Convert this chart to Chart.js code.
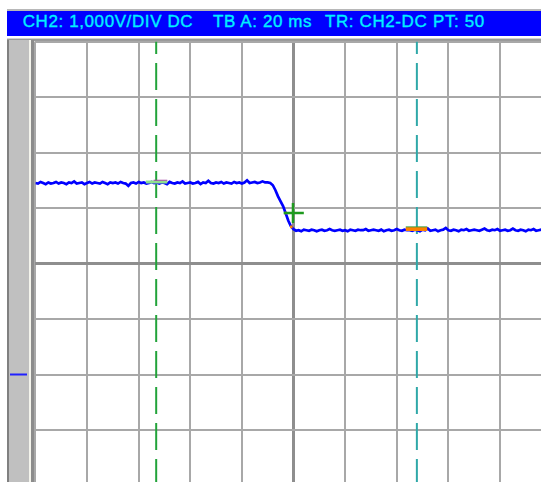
<!DOCTYPE html>
<html>
<head>
<meta charset="utf-8">
<script src="https://cdn.jsdelivr.net/npm/chart.js@4"></script>
<style>
  html, body { margin:0; padding:0; }
  body { width:541px; height:482px; overflow:hidden; position:relative; background:#ffffff; font-family:"Liberation Sans", Arial, sans-serif; }
  .abs { position:absolute; }
  .ttl { position:absolute; top:12.6px; font-size:17px; line-height:1; color:#00F0FF; letter-spacing:0.6px; white-space:pre; -webkit-text-stroke:0.35px #00F0FF; }
  canvas { position:absolute; left:0; top:0; z-index:1; }
</style>
</head>
<body>
<div class="abs" style="left:7px;top:9px;width:534px;height:2px;background:#B8B8B8"></div>
<div class="abs" style="left:7px;top:11px;width:534px;height:25px;background:#0000FF"></div>
<span class="ttl" style="left:22.7px">CH2: 1,000V/DIV DC</span>
<span class="ttl" style="left:213px">TB A: 20 ms</span>
<span class="ttl" style="left:325px">TR: CH2-DC</span>
<span class="ttl" style="left:433px">PT: 50</span>
<div class="abs" style="left:7px;top:38px;width:534px;height:1px;background:#D4D4D4"></div>
<div class="abs" style="left:7px;top:39px;width:534px;height:2px;background:#9A9A9A"></div>
<div class="abs" style="left:7px;top:40px;width:2px;height:442px;background:#808080"></div>
<div class="abs" style="left:9px;top:40px;width:20px;height:442px;background:#C0C0C0"></div>
<div class="abs" style="left:29px;top:40px;width:2px;height:442px;background:#F4F4EC"></div>
<div class="abs" style="left:31px;top:40px;width:3px;height:442px;background:#8C8C8C"></div>
<canvas id="c" width="570" height="500"></canvas>
<script>
// Time axis in ms (20 ms/div, trigger at centre), voltage in divisions (1 V/div)
const traceTimeMs = [
  -100,-99,-98,-97,-96,-95,-94,-93,-92,-91,
  -90,-89,-88,-87,-86,-85,-84,-83,-82,-81,
  -80,-79,-78,-77,-76,-75,-74,-73,-72,-71,
  -70,-69,-68,-67,-66,-65,-64,-63,-62,-61,
  -60,-59,-58,-57,-56,-55,-54,-53,-52,-51,
  -50,-49,-48,-47,-46,-45,-44,-43,-42,-41,
  -40,-39,-38,-37,-36,-35,-34,-33,-32,-31,
  -30,-29,-28,-27,-26,-25,-24,-23,-22,-21,
  -20,-19,-18,-17,-16,-15,-14,-13,-12,-11,
  -10,-9,-8,-7,-6,-5,-4,-3,-2,-1,
  0,1,2,3,4,5,6,7,8,9,
  10,11,12,13,14,15,16,17,18,19,
  20,21,22,23,24,25,26,27,28,29,
  30,31,32,33,34,35,36,37,38,39,
  40,41,42,43,44,45,46,47,48,49,
  50,51,52,53,54,55,56,57,58,59,
  60,61,62,63,64,65,66,67,68,69,
  70,71,72,73,74,75,76,77,78,79,
  80,81,82,83,84,85,86,87,88,89,
  90,91,92,93,94,95,96
];
const traceDiv = [
  1.45,1.44,1.47,1.45,1.43,1.46,1.44,1.45,1.47,1.44,
  1.46,1.45,1.43,1.46,1.45,1.48,1.44,1.45,1.46,1.43,
  1.45,1.47,1.44,1.46,1.45,1.44,1.47,1.45,1.43,1.46,
  1.45,1.46,1.44,1.47,1.45,1.44,1.40,1.45,1.46,1.44,
  1.47,1.45,1.46,1.44,1.45,1.47,1.45,1.46,1.44,1.46,
  1.45,1.43,1.47,1.45,1.44,1.46,1.45,1.48,1.44,1.45,
  1.46,1.44,1.45,1.47,1.43,1.46,1.45,1.49,1.45,1.44,
  1.46,1.45,1.47,1.44,1.46,1.45,1.44,1.47,1.45,1.46,
  1.44,1.46,1.50,1.45,1.46,1.47,1.45,1.46,1.48,1.46,
  1.46,1.45,1.41,1.32,1.21,1.12,1.03,0.90,0.77,0.67,
  0.62,0.59,0.60,0.58,0.61,0.60,0.59,0.61,0.60,0.58,
  0.60,0.61,0.59,0.60,0.62,0.60,0.59,0.60,0.61,0.59,
  0.60,0.58,0.61,0.60,0.59,0.61,0.60,0.60,0.62,0.59,
  0.60,0.61,0.60,0.59,0.61,0.58,0.60,0.61,0.59,0.60,
  0.62,0.60,0.59,0.61,0.60,0.60,0.59,0.61,0.60,0.58,
  0.61,0.60,0.63,0.59,0.60,0.61,0.58,0.60,0.61,0.64,
  0.60,0.59,0.61,0.60,0.58,0.61,0.60,0.62,0.59,0.60,
  0.61,0.60,0.59,0.61,0.63,0.60,0.59,0.61,0.60,0.62,
  0.59,0.60,0.61,0.59,0.60,0.63,0.60,0.59,0.61,0.60,
  0.58,0.61,0.60,0.62,0.59,0.60,0.61
];
const cursorTimesMs = [-53.2, 47.8];
const cursorColors = ['#22A33A', '#2FA8A8'];
const cursorMarkLevels = [1.47, 0.62];
const triggerPoint = [-0.2, 0.91];
const triggerDots = [[-3.0, 0.91], [-0.85, 0.66]];
const groundMarkerDiv = [-2.0];
const xRange = [-100, 100];
const yRange = [-4, 4];

const trace = traceTimeMs.map((t, i) => ({ x: t, y: traceDiv[i] }));

const datasets = [];
cursorTimesMs.forEach((t, i) => {
  datasets.push({
    data: [{ x: t, y: yRange[1] }, { x: t, y: yRange[0] }],
    borderColor: cursorColors[i], borderWidth: 2, borderDash: [27, 9], borderDashOffset: 14.5,
    pointRadius: 0, order: 5
  });
});
datasets.push({
  data: trace, borderColor: '#0000FF', borderWidth: 2.7, pointRadius: 0, tension: 0, order: 3
});
// cursor markers
datasets.push({
  data: [{ x: cursorTimesMs[0] - 4, y: cursorMarkLevels[0] }, { x: cursorTimesMs[0] + 4.3, y: cursorMarkLevels[0] }],
  borderColor: '#8EE08E', borderWidth: 3, pointRadius: 0, order: 2
});
datasets.push({
  data: [{ x: cursorTimesMs[0] - 1, y: cursorMarkLevels[0] + 0.03 }, { x: cursorTimesMs[0] + 4.3, y: cursorMarkLevels[0] + 0.03 }],
  borderColor: '#A040A0', borderWidth: 1, pointRadius: 0, order: 1
});
datasets.push({
  data: [{ x: cursorTimesMs[1] - 4.3, y: cursorMarkLevels[1] }, { x: cursorTimesMs[1] + 4, y: cursorMarkLevels[1] }],
  borderColor: '#FF8000', borderWidth: 4, pointRadius: 0, order: 2
});
datasets.push({
  data: [{ x: cursorTimesMs[1] - 4.3, y: cursorMarkLevels[1] + 0.04 }, { x: cursorTimesMs[1] + 4, y: cursorMarkLevels[1] + 0.04 }],
  borderColor: '#40A040', borderWidth: 1, pointRadius: 0, order: 1
});
// trigger crosshair
datasets.push({
  data: [{ x: triggerPoint[0] - 3.6, y: triggerPoint[1] }, { x: triggerPoint[0] + 4.2, y: triggerPoint[1] }],
  borderColor: '#1E9A1E', borderWidth: 2.5, pointRadius: 0, order: 0
});
datasets.push({
  data: [{ x: triggerPoint[0], y: triggerPoint[1] + 0.18 }, { x: triggerPoint[0], y: triggerPoint[1] - 0.18 }],
  borderColor: '#1E9A1E', borderWidth: 2.5, pointRadius: 0, order: 0
});
datasets.push({
  data: triggerDots.map(p => ({ x: p[0], y: p[1] })), showLine: false,
  pointStyle: 'rect', pointRadius: 1.8, backgroundColor: '#FF8000', borderColor: '#FF8000', borderWidth: 0, order: 0
});

const groundPlugin = {
  id: 'ground',
  afterDraw(chart) {
    const y = chart.scales.y.getPixelForValue(groundMarkerDiv[0]);
    const ctx = chart.ctx;
    ctx.save();
    ctx.strokeStyle = '#2020FF';
    ctx.lineWidth = 2;
    ctx.beginPath();
    ctx.moveTo(10, y);
    ctx.lineTo(27, y);
    ctx.stroke();
    ctx.restore();
  }
};

const gridOpts = {
  color: c => (c.tick && c.tick.value === 0) ? '#8E8E8E' : '#A8A8A8',
  lineWidth: c => (c.tick && c.tick.value === 0) ? 3 : 2,
  drawTicks: false
};

new Chart(document.getElementById('c'), {
  type: 'line',
  data: { datasets },
  options: {
    responsive: false,
    animation: false,
    events: [],
    layout: { padding: { left: 35.4, top: 41.5, right: 18.4, bottom: 14.5 } },
    plugins: { legend: { display: false }, tooltip: { enabled: false }, title: { display: false } },
    scales: {
      x: {
        type: 'linear', min: xRange[0], max: xRange[1],
        ticks: { display: false, stepSize: 20 },
        grid: gridOpts, border: { display: false }
      },
      y: {
        type: 'linear', min: yRange[0], max: yRange[1],
        ticks: { display: false, stepSize: 1 },
        grid: gridOpts, border: { display: false }
      }
    }
  },
  plugins: [groundPlugin]
});
</script>
</body>
</html>
